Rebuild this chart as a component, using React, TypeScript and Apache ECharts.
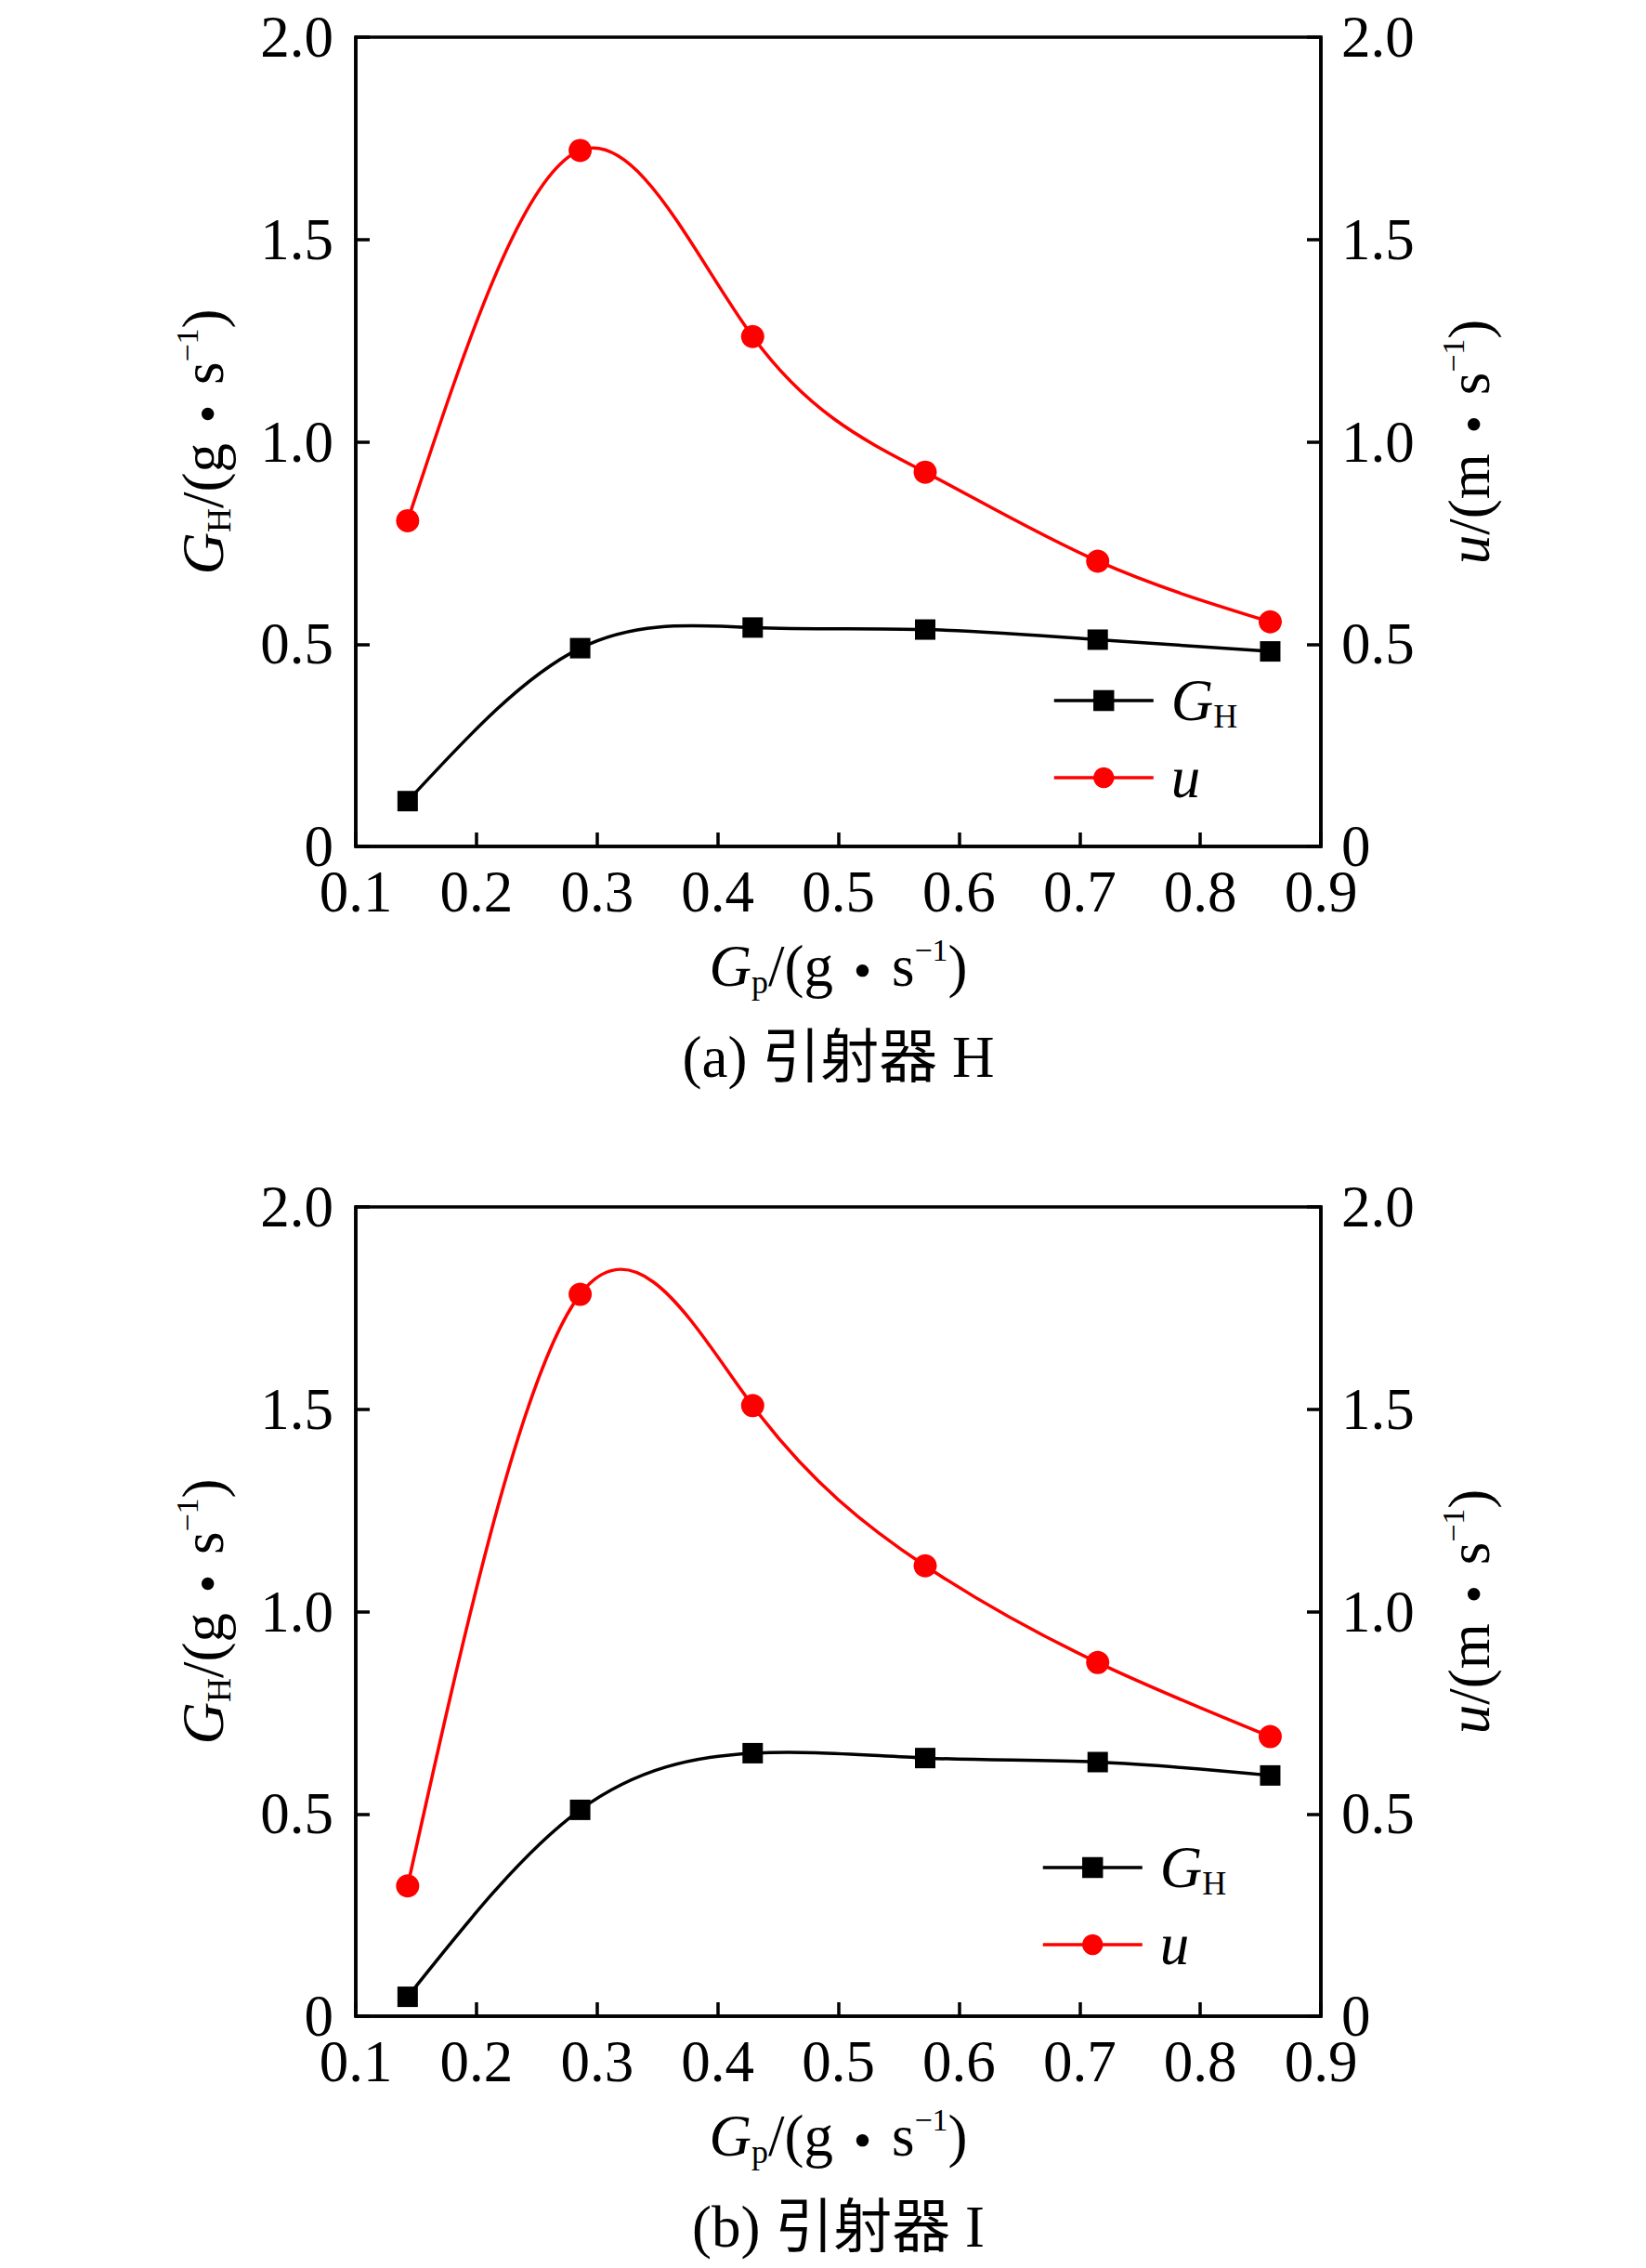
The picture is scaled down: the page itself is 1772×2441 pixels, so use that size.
import React, { useEffect, useRef } from "react";
import * as echarts from "echarts";

// ---- data ----
const gp = [0.143, 0.286, 0.429, 0.572, 0.715, 0.858];
const ghA = [0.112, 0.49, 0.541, 0.536, 0.511, 0.482];
const uA = [0.805, 1.72, 1.26, 0.925, 0.705, 0.555];
const ghB = [0.048, 0.51, 0.65, 0.638, 0.628, 0.595];
const uB = [0.322, 1.784, 1.509, 1.113, 0.874, 0.691];
const captions = ["(a) 引射器 H", "(b) 引射器 I"];
const xTicks = { min: 0.1, max: 0.9, interval: 0.1 };
const yTicks = { min: 0, max: 2, interval: 0.5 };

const FONT = "'Liberation Serif', 'Times New Roman', 'Noto Sans CJK SC', serif";
const CJK = "'Noto Sans CJK SC', sans-serif";
const FS = 63;
const LH = 70;
const LW = 3.5;

const rich = {
  i: { fontFamily: FONT, fontSize: FS, fontStyle: "italic", lineHeight: LH, color: "#000" },
  n: { fontFamily: FONT, fontSize: FS, lineHeight: LH, color: "#000" },
  d: { fontFamily: CJK, fontSize: FS, lineHeight: LH, color: "#000" },
  s: { fontFamily: FONT, fontSize: 36, lineHeight: 26, verticalAlign: "bottom", color: "#000" },
  p: { fontFamily: FONT, fontSize: 34, lineHeight: 32, verticalAlign: "top", color: "#000" },
  li: { fontFamily: FONT, fontSize: FS, fontStyle: "italic", lineHeight: LH, color: "#000", padding: [0, 0, 0, 14] },
};

const GRID_LEFT = 383;
const GRID_W = 1039;
const GRID_H = 871;
const GRID_TOPS = [40, 1299];
const LEGEND_POS = [
  { left: 1133, top: 719 },
  { left: 1121, top: 1975 },
];
const CAPTION_Y = [1138, 2397];

const axisLine = { show: true, onZero: false, lineStyle: { color: "#000", width: LW } };
const axisTick = { show: true, inside: true, length: 15, lineStyle: { color: "#000", width: LW } };
const labelBase = { fontSize: FS, fontFamily: FONT, color: "#000", lineHeight: 46 };
const yFmt = (v: number) => (v === 0 ? "0" : v.toFixed(1));

// Natural cubic spline (as in the original plotting software): returns
// Bezier control points (in data space) for each segment between data points.
function splineControls(xs: number[], ys: number[]) {
  const n = xs.length;
  const h: number[] = [];
  for (let i = 0; i < n - 1; i++) h.push(xs[i + 1] - xs[i]);
  const M = new Array(n).fill(0);
  if (n > 2) {
    const a: number[] = [], b: number[] = [], c: number[] = [], d: number[] = [];
    for (let i = 1; i < n - 1; i++) {
      a.push(h[i - 1]);
      b.push(2 * (h[i - 1] + h[i]));
      c.push(h[i]);
      d.push(6 * ((ys[i + 1] - ys[i]) / h[i] - (ys[i] - ys[i - 1]) / h[i - 1]));
    }
    const m = b.length;
    const cp = new Array(m).fill(0);
    const dp = new Array(m).fill(0);
    cp[0] = c[0] / b[0];
    dp[0] = d[0] / b[0];
    for (let i = 1; i < m; i++) {
      const den = b[i] - a[i] * cp[i - 1];
      cp[i] = c[i] / den;
      dp[i] = (d[i] - a[i] * dp[i - 1]) / den;
    }
    const sol = new Array(m).fill(0);
    sol[m - 1] = dp[m - 1];
    for (let i = m - 2; i >= 0; i--) sol[i] = dp[i] - cp[i] * sol[i + 1];
    for (let i = 0; i < m; i++) M[i + 1] = sol[i];
  }
  const segs: { c1: number[]; c2: number[] }[] = [];
  for (let i = 0; i < n - 1; i++) {
    const hi = h[i];
    const slope = (ys[i + 1] - ys[i]) / hi;
    const d0 = slope - (hi * (2 * M[i] + M[i + 1])) / 6;
    const d1 = slope + (hi * (M[i] + 2 * M[i + 1])) / 6;
    segs.push({
      c1: [xs[i] + hi / 3, ys[i] + (d0 * hi) / 3],
      c2: [xs[i + 1] - hi / 3, ys[i + 1] - (d1 * hi) / 3],
    });
  }
  return segs;
}

function splineSeries(xs: number[], ys: number[], color: string, k: number, yIdx: number) {
  const segs = splineControls(xs, ys);
  return {
    type: "custom",
    xAxisIndex: k,
    yAxisIndex: yIdx,
    silent: true,
    clip: false,
    encode: { x: 0, y: 1 },
    data: xs.map((x, i) => [x, ys[i]]),
    renderItem: (params: any, api: any) => {
      const i = params.dataIndex;
      if (i >= xs.length - 1) return { type: "group", children: [] };
      const p0 = api.coord([xs[i], ys[i]]);
      const p1 = api.coord([xs[i + 1], ys[i + 1]]);
      const c1 = api.coord(segs[i].c1);
      const c2 = api.coord(segs[i].c2);
      return {
        type: "bezierCurve",
        shape: {
          x1: p0[0], y1: p0[1], x2: p1[0], y2: p1[1],
          cpx1: c1[0], cpy1: c1[1], cpx2: c2[0], cpy2: c2[1],
        },
        style: { stroke: color, lineWidth: LW, fill: "none" },
      };
    },
  };
}

export default function App() {
  const ref = useRef<HTMLDivElement>(null);
  useEffect(() => {
    if (!ref.current) return;
    const chart = echarts.init(ref.current, undefined, { renderer: "svg" });
    const panels = [
      { gh: ghA, u: uA },
      { gh: ghB, u: uB },
    ];
    const grid: any[] = [];
    const xAxis: any[] = [];
    const yAxis: any[] = [];
    const series: any[] = [];
    const legend: any[] = [];
    const graphic: any[] = [];
    panels.forEach((p, k) => {
      grid.push({
        left: GRID_LEFT,
        top: GRID_TOPS[k],
        width: GRID_W,
        height: GRID_H,
        show: true,
        borderColor: "#000",
        borderWidth: LW,
        backgroundColor: "transparent",
      });
      xAxis.push({
        type: "value",
        gridIndex: k,
        min: xTicks.min,
        max: xTicks.max,
        interval: xTicks.interval,
        axisLine,
        axisTick,
        splitLine: { show: false },
        axisLabel: { ...labelBase, margin: 26, formatter: (v: number) => v.toFixed(1) },
        name: "{i|G}{s|p}{n|/(g}{d|・}{n|s}{p|−1}{n|)}",
        nameLocation: "middle",
        nameGap: 94,
        nameTextStyle: { ...labelBase, lineHeight: LH, rich },
      });
      yAxis.push({
        type: "value",
        gridIndex: k,
        position: "left",
        min: yTicks.min,
        max: yTicks.max,
        interval: yTicks.interval,
        axisLine,
        axisTick,
        splitLine: { show: false },
        axisLabel: { ...labelBase, margin: 24, formatter: yFmt },
        name: "{i|G}{s|H}{n|/(g}{d|・}{n|s}{p|−1}{n|)}",
        nameLocation: "middle",
        nameRotate: 90,
        nameGap: 129,
        nameTextStyle: { ...labelBase, lineHeight: LH, rich },
      });
      yAxis.push({
        type: "value",
        gridIndex: k,
        position: "right",
        min: yTicks.min,
        max: yTicks.max,
        interval: yTicks.interval,
        axisLine,
        axisTick,
        splitLine: { show: false },
        axisLabel: { ...labelBase, margin: 22, formatter: yFmt },
        name: "{i|u}{n|/(m}{d|・}{n|s}{p|−1}{n|)}",
        nameLocation: "middle",
        nameRotate: 90,
        nameGap: 125,
        nameTextStyle: { ...labelBase, lineHeight: LH, rich },
      });
      series.push(splineSeries(gp, p.gh, "#000", k, 2 * k));
      series.push(splineSeries(gp, p.u, "#ff0000", k, 2 * k + 1));
      series.push({
        name: "GH",
        type: "line",
        xAxisIndex: k,
        yAxisIndex: 2 * k,
        data: gp.map((x, i) => [x, p.gh[i]]),
        symbol: "rect",
        symbolSize: 22,
        lineStyle: { color: "#000", width: LW, opacity: 0 },
        itemStyle: { color: "#000" },
      });
      series.push({
        name: "u",
        type: "line",
        xAxisIndex: k,
        yAxisIndex: 2 * k + 1,
        data: gp.map((x, i) => [x, p.u[i]]),
        symbol: "circle",
        symbolSize: 25,
        lineStyle: { color: "#ff0000", width: LW, opacity: 0 },
        itemStyle: { color: "#ff0000" },
      });
      legend.push({
        data: ["GH", "u"],
        orient: "vertical",
        left: LEGEND_POS[k].left,
        top: LEGEND_POS[k].top,
        padding: 0,
        itemWidth: 107,
        itemHeight: 28,
        itemGap: 13,
        selectedMode: false,
        lineStyle: { opacity: 1, width: LW },
        formatter: (name: string) => (name === "GH" ? "{li|G}{s|H}" : "{li|u}"),
        textStyle: { ...labelBase, lineHeight: LH, rich },
      });
      graphic.push({
        type: "text",
        x: GRID_LEFT + GRID_W / 2,
        y: CAPTION_Y[k],
        style: {
          text: captions[k],
          fontSize: FS,
          fontFamily: FONT,
          fill: "#000",
          align: "center",
          verticalAlign: "middle",
          textAlign: "center",
          textVerticalAlign: "middle",
        },
      });
    });
    chart.setOption({
      animation: false,
      backgroundColor: "#fff",
      grid,
      xAxis,
      yAxis,
      series,
      legend,
      graphic,
    });
    return () => chart.dispose();
  }, []);
  return (
    <div
      ref={ref}
      style={{ position: "absolute", left: 0, top: 0, width: 1772, height: 2441, background: "#fff" }}
    />
  );
}
